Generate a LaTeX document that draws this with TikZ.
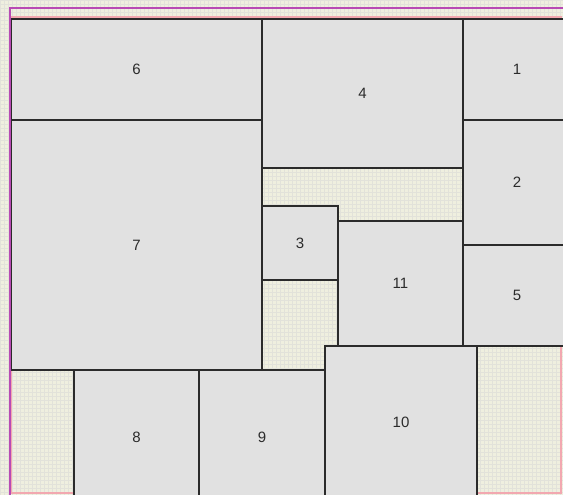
\documentclass[tikz,border=0pt]{standalone}
\usepackage{fontspec}
\setmainfont{Liberation Sans}
\definecolor{clrGap}    {HTML}{EFEFDF}
\definecolor{clrDot}    {HTML}{E2E2DA}
\definecolor{clrBox}    {HTML}{E1E1E1}
\definecolor{clrEdge}   {HTML}{2B2B2B}
\definecolor{clrFrame}  {HTML}{B84AB4}
\definecolor{clrInner}  {HTML}{F2A8B0}
\tikzset{
  blk/.style = {
    rectangle, draw=clrEdge, line width=1.4pt,
    fill=clrBox, inner sep=0pt, outer sep=0pt,
    text=clrEdge, font=\fontsize{15}{17}\selectfont,
  },
  gapgrid/.style = {draw=clrDot, line width=0.9pt},
  frame/.style   = {draw=clrFrame, line width=2.2pt},
  inner/.style   = {draw=clrInner, line width=1.5pt},
}
\begin{document}
\begin{tikzpicture}[x=1pt, y=-1pt]

\useasboundingbox (0,0) rectangle (563,495);
\clip (0,0) rectangle (563,495);

% ══════════════════════════════════════════════════════════════════════════
%  Canvas — dotted free area and the inner (pink) frame
% ══════════════════════════════════════════════════════════════════════════

\fill[clrGap] (0,0) rectangle (563,495);
\draw[gapgrid, step=4pt] (0,0) grid (563,495);

\draw[inner] (11,17) rectangle (561,493);

% ══════════════════════════════════════════════════════════════════════════
%  Blocks (centre, size in px)
% ══════════════════════════════════════════════════════════════════════════

\node[blk, minimum width=251, minimum height=101] (b6)  at (136.5, 69.5) {6};
\node[blk, minimum width=201, minimum height=149] (b4)  at (362.5, 93.5) {4};
\node[blk, minimum width=108, minimum height=101] (b1)  at (517,   69.5) {1};
\node[blk, minimum width=108, minimum height=125] (b2)  at (517,  182.5) {2};
\node[blk, minimum width=251, minimum height=250] (b7)  at (136.5, 245 ) {7};
\node[blk, minimum width=76,  minimum height=74 ] (b3)  at (300,  243  ) {3};
\node[blk, minimum width=125, minimum height=125] (b11) at (400.5, 283.5) {11};
\node[blk, minimum width=108, minimum height=101] (b5)  at (517,  295.5) {5};

% bottom row (runs off the lower edge)
\node[blk, minimum width=125, minimum height=134] (b8)  at (136.5, 437 ) {8};
\node[blk, minimum width=126, minimum height=134] (b9)  at (262,  437  ) {9};
\node[blk, minimum width=152, minimum height=152] (b10) at (401,  422  ) {10};

% outer (magenta) frame lies over the left edge of the blocks
\draw[frame] (10,495) -- (10,8) -- (563,8);

\end{tikzpicture}
\end{document}
